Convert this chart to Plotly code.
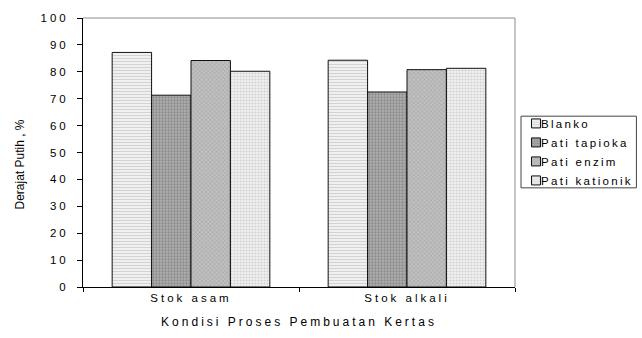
import plotly.graph_objects as go

# Whiteness (derajat putih, %) per papermaking condition and additive
categories = ["Stok asam", "Stok alkali"]
series_names = ["Blanko", "Pati tapioka", "Pati enzim", "Pati kationik"]
blanko = [87.2, 84.3]
pati_tapioka = [71.3, 72.5]
pati_enzim = [84.2, 80.8]
pati_kationik = [80.2, 81.3]
y_ticks = [0, 10, 20, 30, 40, 50, 60, 70, 80, 90, 100]

series_values = [blanko, pati_tapioka, pati_enzim, pati_kationik]

# hatch fill for each series: (pattern shape, background, foreground, size, solidity)
fills = [
    ("-", "#f0f0f0", "#d2d2d2", 3, 0.35),
    (".", "#b0b0b0", "#8a8a8a", 3, 0.45),
    ("x", "#c0c0c0", "#949494", 3, 0.22),
    (".", "#f2f2f2", "#d0d0d0", 3, 0.4),
]

FONT = "Liberation Sans, Arial, sans-serif"

fig = go.Figure()
for name, vals, (shape, bg, fg, size, sol) in zip(series_names, series_values, fills):
    fig.add_trace(go.Bar(
        name=name,
        x=categories,
        y=vals,
        marker=dict(
            color=bg,
            line=dict(color="#111111", width=1),
            pattern=dict(shape=shape, bgcolor=bg, fgcolor=fg, size=size,
                         solidity=sol, fillmode="replace"),
        ),
    ))

fig.update_layout(
    width=642,
    height=338,
    margin=dict(l=83, r=127, t=14, b=50),
    paper_bgcolor="white",
    plot_bgcolor="white",
    barmode="group",
    bargap=0.27,
    bargroupgap=0,
    font=dict(family=FONT, size=11, color="black"),
    showlegend=True,
    legend=dict(
        x=1.0023, xanchor="left",
        y=0.662, yanchor="top",
        bgcolor="rgba(0,0,0,0)",
        borderwidth=0,
        font=dict(family=FONT, size=11.5, color="black"),
        tracegroupgap=0,
    ),
)

fig.update_xaxes(
    showline=True, linecolor="black", linewidth=1,
    ticks="outside", tickson="boundaries", ticklen=4, tickcolor="black",
    showgrid=False, zeroline=False,
    tickfont=dict(family=FONT, size=11.5, color="black"),
    title=dict(text="Kondisi Proses Pembuatan Kertas", standoff=14,
               font=dict(family=FONT, size=12, color="black")),
)
fig.update_yaxes(
    range=[0, 100],
    tickvals=y_ticks,
    showline=True, linecolor="black", linewidth=1,
    ticks="outside", ticklen=5, tickcolor="black",
    ticklabelstandoff=6,
    showgrid=False, zeroline=False,
    tickfont=dict(family=FONT, size=11.5, color="black"),
)

# y-axis title, placed a little below the axis centre
fig.add_annotation(
    text="Derajat Putih , %",
    xref="paper", yref="paper",
    x=-0.146, y=0.455,
    textangle=-90, showarrow=False,
    xanchor="center", yanchor="middle",
    font=dict(family=FONT, size=12, color="black"),
)

# grey frame on the top and right of the plot area
fig.add_shape(type="line", xref="x domain", yref="y domain",
              x0=0, x1=1, y0=1, y1=1, line=dict(color="#8c8c8c", width=1))
fig.add_shape(type="line", xref="x domain", yref="y domain",
              x0=1, x1=1, y0=0, y1=1, line=dict(color="#8c8c8c", width=1))

# legend box
fig.add_shape(type="rect", xref="paper", yref="paper",
              x0=1.0139, x1=1.281, y0=0.3686, y1=0.635,
              line=dict(color="#444444", width=1), fillcolor="rgba(0,0,0,0)")

# widely tracked lettering on ticks, axis title and legend;
# small legend swatches with the label set close beside them
post_js = """
var gd = document.getElementById('{plot_id}');
function styleText() {
  gd.querySelectorAll('.xtick text, .ytick text, .g-xtitle text').forEach(function (t) {
    t.style.letterSpacing = '3px';
  });
  gd.querySelectorAll('.legendtext').forEach(function (t) {
    t.style.letterSpacing = '2.3px';
    t.setAttribute('x', 25);
  });
  gd.querySelectorAll('.legend .legendpoints path').forEach(function (p) {
    p.setAttribute('d', 'M4.5,4.5H-4.5V-4.5H4.5Z');
  });
  gd.querySelectorAll('.legend .scrollbox').forEach(function (s) {
    s.removeAttribute('clip-path');
  });
}
styleText();
gd.on('plotly_afterplot', styleText);
"""

fig.write_html("out.html", post_script=post_js, config={"displayModeBar": False})
